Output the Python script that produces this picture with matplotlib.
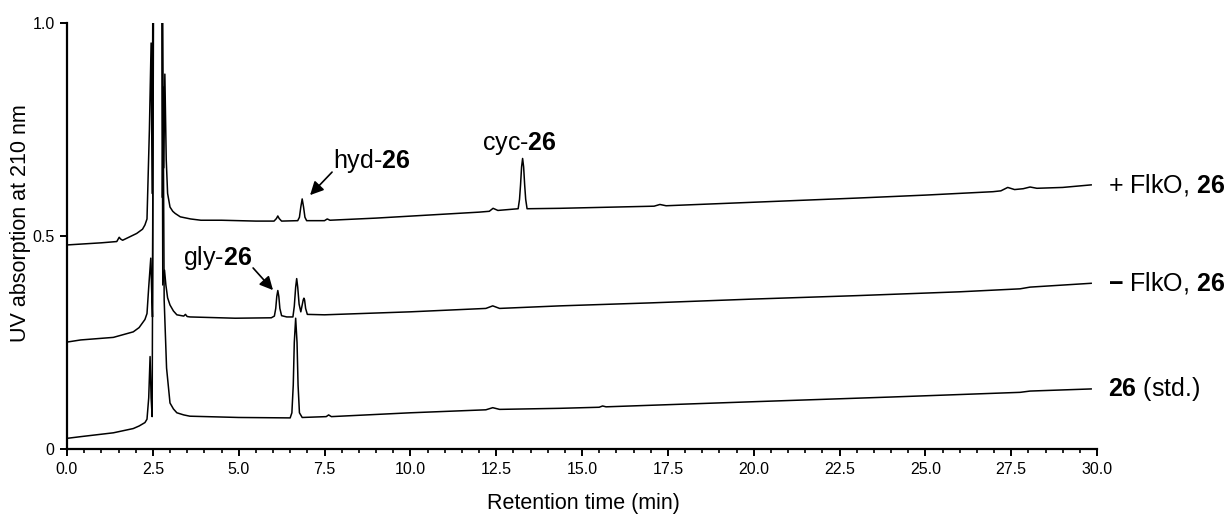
import matplotlib
matplotlib.use("Agg")
import matplotlib.pyplot as plt
from matplotlib import font_manager
from matplotlib.ticker import MultipleLocator, FixedLocator, FixedFormatter

# ---- chromatogram traces: retention time (min) and UV absorbance ----
time_plus = [0.00, 0.40, 1.00, 1.45, 1.52, 1.56, 1.62, 1.80, 2.03, 2.20, 2.27, 2.33,
             2.40, 2.45, 2.48, 2.51, 2.76, 2.78, 2.80, 2.82, 2.85, 2.89, 2.93, 3.00,
             3.08, 3.15, 3.30, 3.60, 3.90, 4.50, 5.50, 6.03, 6.10, 6.14, 6.18, 6.25,
             6.72, 6.77, 6.81, 6.85, 6.89, 6.93, 6.98, 7.50, 7.58, 7.66, 9.00, 10.50,
             12.00, 12.30, 12.41, 12.55, 13.14, 13.18, 13.21, 13.24, 13.27, 13.30,
             13.33, 13.36, 13.40, 14.36, 16.00, 17.10, 17.27, 17.45, 19.00, 21.15,
             23.00, 25.00, 26.97, 27.20, 27.40, 27.60, 27.85, 28.05, 28.25, 29.00,
             29.83]
abs_plus = [0.479, 0.481, 0.484, 0.487, 0.497, 0.493, 0.490, 0.497, 0.506, 0.516, 0.526, 0.540,
            0.750, 0.953, 0.600, 1.300, 1.300, 0.590, 0.850, 0.660, 0.880, 0.680, 0.600, 0.568,
            0.558, 0.553, 0.545, 0.540, 0.537, 0.537, 0.535, 0.535, 0.541, 0.547, 0.541, 0.535,
            0.536, 0.544, 0.568, 0.587, 0.568, 0.544, 0.536, 0.536, 0.540, 0.537, 0.542, 0.549,
            0.556, 0.558, 0.565, 0.560, 0.564, 0.586, 0.620, 0.662, 0.682, 0.662,
            0.620, 0.586, 0.564, 0.565, 0.568, 0.570, 0.574, 0.571, 0.576, 0.583,
            0.589, 0.596, 0.604, 0.606, 0.614, 0.609, 0.611, 0.615, 0.612, 0.614,
            0.620]

time_minus = [0.00, 0.40, 1.35, 1.93, 2.10, 2.27, 2.33, 2.38, 2.44, 2.47, 2.49, 2.52,
              2.76, 2.79, 2.84, 2.88, 2.93, 3.00, 3.10, 3.20, 3.40, 3.45, 3.50, 3.58,
              4.90, 5.95, 6.04, 6.08, 6.11, 6.14, 6.17, 6.20, 6.25, 6.40, 6.58, 6.62,
              6.66, 6.69, 6.72, 6.76, 6.81, 6.85, 6.88, 6.90, 6.92, 6.95, 7.00, 7.50,
              10.00, 12.20, 12.40, 12.60, 14.36, 17.00, 20.00, 23.00, 26.00, 27.76,
              28.05, 29.83]
abs_minus = [0.251, 0.256, 0.262, 0.275, 0.285, 0.304, 0.318, 0.380, 0.448, 0.360, 0.310, 1.300,
             1.300, 0.385, 0.420, 0.385, 0.355, 0.338, 0.324, 0.315, 0.312, 0.316, 0.311, 0.310,
             0.307, 0.308, 0.312, 0.330, 0.358, 0.372, 0.358, 0.330, 0.313, 0.310, 0.310, 0.335,
             0.380, 0.400, 0.380, 0.340, 0.322, 0.338, 0.350, 0.354, 0.350, 0.330, 0.316, 0.315,
             0.322, 0.330, 0.336, 0.330, 0.336, 0.343, 0.352, 0.360, 0.369, 0.376,
             0.380, 0.389]

time_std = [0.00, 0.40, 1.35, 1.93, 2.10, 2.27, 2.33, 2.38, 2.42, 2.45, 2.48, 2.53,
            2.77, 2.83, 2.90, 3.00, 3.10, 3.20, 3.40, 3.58, 5.00, 6.50, 6.55, 6.59,
            6.62, 6.66, 6.70, 6.73, 6.77, 6.85, 7.55, 7.62, 7.70, 10.00, 12.20, 12.40,
            12.60, 14.36, 15.50, 15.60, 15.70, 20.00, 24.00, 27.76, 28.05, 29.83]
abs_std = [0.025, 0.029, 0.038, 0.048, 0.054, 0.062, 0.070, 0.120, 0.217, 0.120, 0.076, 1.300,
           1.300, 0.350, 0.190, 0.108, 0.094, 0.085, 0.080, 0.077, 0.074, 0.073, 0.085, 0.150,
           0.250, 0.307, 0.250, 0.150, 0.085, 0.074, 0.076, 0.080, 0.076, 0.085, 0.092, 0.097,
           0.093, 0.0955, 0.098, 0.101, 0.099, 0.111, 0.122, 0.133, 0.136, 0.141]

trace_labels = [r"+ FlkO, $\mathbf{26}$", r"$\mathbf{-}$ FlkO, $\mathbf{26}$", r"$\mathbf{26}$ (std.)"]
x_ticks = [0.0, 2.5, 5.0, 7.5, 10.0, 12.5, 15.0, 17.5, 20.0, 22.5, 25.0, 27.5, 30.0]
y_ticks = [0.0, 0.5, 1.0]
y_tick_labels = ["0", "0.5", "1.0"]


def has_font(name):
    try:
        font_manager.findfont(font_manager.FontProperties(family=name),
                              fallback_to_default=False)
        return True
    except Exception:
        return False


base_font = "Liberation Sans"
narrow = has_font("Liberation Sans Narrow")
tick_font = "Liberation Sans Narrow" if narrow else base_font
tick_size = 14 if narrow else 11.5

plt.rcParams["font.family"] = [base_font, "DejaVu Sans"]
plt.rcParams["mathtext.fontset"] = "custom"
plt.rcParams["mathtext.rm"] = base_font
plt.rcParams["mathtext.bf"] = base_font + ":bold"

fig = plt.figure(figsize=(12.32, 5.14), dpi=100)
ax = fig.add_axes([67 / 1232, 65 / 514, 1030 / 1232, 426 / 514])

for t, a in [(time_plus, abs_plus), (time_minus, abs_minus), (time_std, abs_std)]:
    ax.plot(t, a, color="black", lw=1.1, solid_joinstyle="round")

ax.set_xlim(0, 30)
ax.set_ylim(0, 1.0)

for side in ("top", "right"):
    ax.spines[side].set_visible(False)
for side in ("left", "bottom"):
    ax.spines[side].set_linewidth(1.6)

ax.xaxis.set_major_locator(FixedLocator(x_ticks))
ax.xaxis.set_major_formatter(FixedFormatter([f"{v:.1f}" for v in x_ticks]))
ax.xaxis.set_minor_locator(MultipleLocator(0.5))
ax.yaxis.set_major_locator(FixedLocator(y_ticks))
ax.yaxis.set_major_formatter(FixedFormatter(y_tick_labels))
ax.tick_params(axis="both", which="major", direction="out", length=5, width=1.4,
               labelsize=tick_size, pad=4)
ax.tick_params(axis="x", which="minor", direction="out", length=3, width=1.2)
for lab in ax.get_xticklabels() + ax.get_yticklabels():
    lab.set_fontfamily([tick_font, "DejaVu Sans"])

fig.text(583 / 1232, 1 - 504 / 514, "Retention time (min)", ha="center", va="center",
         fontsize=15.5)
fig.text(21 / 1232, 1 - 223 / 514, "UV absorption at 210 nm", ha="center", va="center",
         rotation=90, fontsize=15.5)

# trace names to the right of each run
label_levels = [abs_plus[-1], abs_minus[-1], abs_std[-1]]
for text, level in zip(trace_labels, label_levels):
    ax.text(30.32, level, text, ha="left", va="center", fontsize=18, clip_on=False)

# peak annotations
arrow = dict(arrowstyle="-|>", color="black", lw=1.2, mutation_scale=20,
             shrinkA=0, shrinkB=0)
ax.text(7.75, 0.66, r"hyd-$\mathbf{26}$", fontsize=18, ha="left", va="baseline")
ax.annotate("", xy=(7.08, 0.596), xytext=(7.72, 0.650), arrowprops=arrow)
ax.text(12.09, 0.702, r"cyc-$\mathbf{26}$", fontsize=18, ha="left", va="baseline")
ax.text(3.38, 0.432, r"gly-$\mathbf{26}$", fontsize=18, ha="left", va="baseline")
ax.annotate("", xy=(6.0, 0.373), xytext=(5.42, 0.425), arrowprops=arrow)

fig.savefig("out.png", dpi=100)
